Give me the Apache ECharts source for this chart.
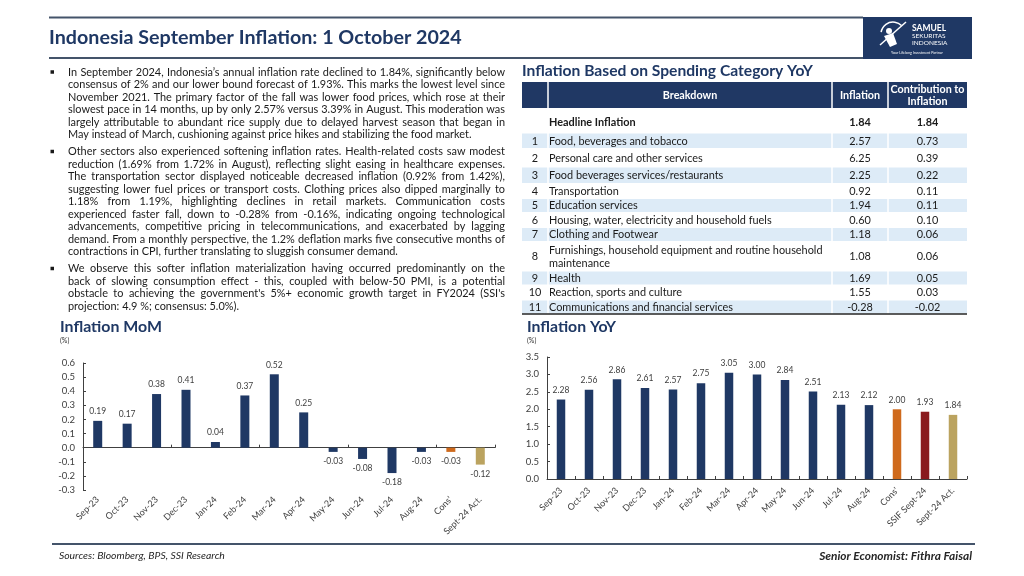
<!DOCTYPE html>
<html><head><meta charset="utf-8">
<script src="https://cdn.jsdelivr.net/npm/echarts@6/dist/echarts.min.js"></script>
<style>html,body{margin:0;padding:0;background:#fff}#c{width:1024px;height:576px}</style>
</head><body><div id="c"></div>
<script>
// ---------- DATA ----------
const pageTitle = 'Indonesia September Inflation: 1 October 2024';
const momTitle = 'Inflation MoM';
const yoyTitle = 'Inflation YoY';
const tableTitle = 'Inflation Based on Spending Category YoY';
const unitLabel = '(%)';

const momCategories = ['Sep-23','Oct-23','Nov-23','Dec-23','Jan-24','Feb-24','Mar-24','Apr-24','May-24','Jun-24','Jul-24','Aug-24',"Cons'",'Sept-24 Act.'];
const momValues = [0.19,0.17,0.38,0.41,0.04,0.37,0.52,0.25,-0.03,-0.08,-0.18,-0.03,-0.03,-0.12];

const yoyCategories = ['Sep-23','Oct-23','Nov-23','Dec-23','Jan-24','Feb-24','Mar-24','Apr-24','May-24','Jun-24','Jul-24','Aug-24',"Cons'",'SSIF Sept-24','Sept-24 Act.'];
const yoyValues = [2.28,2.56,2.86,2.61,2.57,2.75,3.05,3.00,2.84,2.51,2.13,2.12,2.00,1.93,1.84];

const momAxis = {min:-0.3, max:0.6, interval:0.1};
const yoyAxis = {min:0, max:3.5, interval:0.5};

const tableHeaders = ['Breakdown','Inflation','Contribution to\nInflation'];
const headlineRow = ['Headline Inflation','1.84','1.84'];
const tableNumbers = ['1','2','3','4','5','6','7','8','9','10','11'];
const tableItems = ['Food, beverages and tobacco','Personal care and other services','Food beverages services/restaurants','Transportation','Education services','Housing, water, electricity and household fuels','Clothing and Footwear','Furnishings, household equipment and routine household maintenance','Health','Reaction, sports and culture','Communications and financial services'];
const tableInflation = ['2.57','6.25','2.25','0.92','1.94','0.60','1.18','1.08','1.69','1.55','-0.28'];
const tableContribution = ['0.73','0.39','0.22','0.11','0.11','0.10','0.06','0.06','0.05','0.03','-0.02'];

const paragraphs = [
 ["In September 2024, Indonesia\u2019s annual inflation rate declined to 1.84%, significantly below",
  "consensus of 2% and our lower bound forecast of 1.93%. This marks the lowest level since",
  "November 2021. The primary factor of the fall was lower food prices, which rose at their",
  "slowest pace in 14 months, up by only 2.57% versus 3.39% in August. This moderation was",
  "largely attributable to abundant rice supply due to delayed harvest season that began in",
  "May instead of March, cushioning against price hikes and stabilizing the food market."],
 ["Other sectors also experienced softening inflation rates. Health-related costs saw modest",
  "reduction (1.69% from 1.72% in August), reflecting slight easing in healthcare expenses.",
  "The transportation sector displayed noticeable decreased inflation (0.92% from 1.42%),",
  "suggesting lower fuel prices or transport costs. Clothing prices also dipped marginally to",
  "1.18% from 1.19%, highlighting declines in retail markets. Communication costs",
  "experienced faster fall, down to -0.28% from -0.16%, indicating ongoing technological",
  "advancements, competitive pricing in telecommunications, and exacerbated by lagging",
  "demand. From a monthly perspective, the 1.2% deflation marks five consecutive months of",
  "contractions in CPI, further translating to sluggish consumer demand."],
 ["We observe this softer inflation materialization having occurred predominantly on the",
  "back of slowing consumption effect - this, coupled with below-50 PMI, is a potential",
  "obstacle to achieving the government's 5%+ economic growth target in FY2024 (SSI's",
  "projection: 4.9 %; consensus: 5.0%)."]
];
const footerLeft = 'Sources: Bloomberg, BPS, SSI Research';
const footerRight = 'Senior Economist: Fithra Faisal';
const logoLines = ['SAMUEL','SEKURITAS','INDONESIA','Your Lifelong Investment Partner'];

// ---------- STYLE / LAYOUT ----------
const FONT = 'Lato';
const NAVY = '#1f3864';
const TEXT = '#1a1a1a';
const AXIS = '#404040';
const specialColors = {"Cons'":'#cf6a1c','SSIF Sept-24':'#8a1a1e','Sept-24 Act.':'#bba35f'};
const colorFor = c => specialColors[c] || NAVY;

const cv = document.createElement('canvas').getContext('2d');
function textW(t, size, weight, style){ cv.font = (style||'normal')+' '+(weight||'normal')+' '+size+'px '+FONT; return cv.measureText(t).width; }
function fit(t, w, weight, style){ return 20*w/textW(t,20,weight,style); }

function T(text, x, y, o){
  o = o || {};
  const st = {text:text, fill:o.color||TEXT, fontSize:o.size||10, fontFamily:FONT,
    fontWeight:o.weight||'normal', fontStyle:o.style||'normal',
    align:o.align||'left', verticalAlign:o.valign||'middle'};
  if (o.width) { st.width = o.width; st.overflow = 'break'; }
  if (o.lineHeight) st.lineHeight = o.lineHeight;
  return {type:'text', x:x, y:y, silent:true, style:st};
}
function R(x,y,w,h,fill){ return {type:'rect', silent:true, shape:{x:x,y:y,width:w,height:h}, style:{fill:fill}}; }
function L(x1,y1,x2,y2,stroke,lw){ return {type:'line', silent:true, shape:{x1:x1,y1:y1,x2:x2,y2:y2}, style:{stroke:stroke,lineWidth:lw}}; }

const els = [];
// header
els.push(L(49,17.5,863,17.5,'#44546a',2));
els.push(L(49,58,972,58,'#44546a',2));
els.push(T(pageTitle, 49, 38, {size:fit(pageTitle,413,'bold'), weight:'bold', color:NAVY}));
// logo
els.push(R(863,17,109,42,'#1f3864'));
els.push({type:'arc', silent:true, shape:{cx:893,cy:34,r:12,startAngle:-Math.PI*0.95,endAngle:-Math.PI*0.25}, style:{stroke:'#fff',fill:null,lineWidth:1.5}});
els.push(L(880,45,906,22,'#fff',1.5));
els.push({type:'circle', silent:true, shape:{cx:889,cy:31,r:3}, style:{fill:'#fff'}});
els.push({type:'polygon', silent:true, shape:{points:[[884,36],[893,33],[897,44],[890,47]]}, style:{fill:'#fff'}});
els.push(T(logoLines[0], 912, 28.5, {size:8.5, weight:'bold', color:'#fff'}));
els.push(T(logoLines[1], 912, 36, {size:6.5, color:'#fff'}));
els.push(T(logoLines[2], 912, 43, {size:6.5, color:'#fff'}));
els.push(T(logoLines[3], 917, 53, {size:3.6, color:'#fff', align:'center'}));
// footer
els.push(L(52,544,975,544,'#44546a',2));
els.push(T(footerLeft, 59, 556, {size:fit(footerLeft,166,'normal','italic'), style:'italic', color:'#262626'}));
els.push(T(footerRight, 972, 556, {size:fit(footerRight,153,'bold','italic'), style:'italic', weight:'bold', color:'#262626', align:'right'}));

// paragraphs (justified)
const BODY_X = 68, BODY_W = 437;
let maxNat = 0;
paragraphs.forEach(p => p.forEach(l => { maxNat = Math.max(maxNat, textW(l,10)); }));
const bodySize = 10*BODY_W/maxNat*0.995;
let py = 72;
paragraphs.forEach((p, pi) => {
  if (pi > 0) py += 4.5;
  els.push(R(50.5, py-1.75, 3.5, 3.5, TEXT));
  p.forEach((line, li) => {
    const words = line.split(' ');
    const ws = words.map(w => textW(w, bodySize));
    const sum = ws.reduce((a,b)=>a+b,0);
    const last = li === p.length-1;
    const gap = last || words.length < 2 ? textW(' ', bodySize) : (BODY_W - sum)/(words.length-1);
    let x = BODY_X;
    words.forEach((w,k) => { els.push(T(w, x, py, {size:bodySize})); x += ws[k] + gap; });
    py += 12.5;
  });
});

// table
const TX0 = 522, TX1 = 967, C1 = 548, C2 = 832, C3 = 888;
const BAND = '#ddebf7';
els.push(T(tableTitle, 522, 70.5, {size:fit(tableTitle,291,'bold'), weight:'bold', color:NAVY}));
els.push(R(TX0, 82, TX1-TX0, 26, '#203864'));
[C1,C2,C3].forEach(cx => els.push(L(cx,82,cx,108,'#ffffff',1.5)));
const hSize = Math.min(fit(tableHeaders[0],55,'bold'), fit('Contribution to',74,'bold'));
els.push(T(tableHeaders[0], (C1+C2)/2, 95.5, {size:hSize, weight:'bold', color:'#fff', align:'center'}));
els.push(T(tableHeaders[1], (C2+C3)/2, 95.5, {size:hSize, weight:'bold', color:'#fff', align:'center'}));
els.push(T(tableHeaders[2], (C3+TX1)/2, 95.5, {size:hSize, weight:'bold', color:'#fff', align:'center', lineHeight:11.5}));
const bSize = fit(tableItems[0],139);
els.push(T(headlineRow[0], 549, 122, {size:bSize, weight:'bold'}));
els.push(T(headlineRow[1], (C2+C3)/2, 122, {size:bSize, weight:'bold', align:'center'}));
els.push(T(headlineRow[2], (C3+TX1)/2, 122, {size:bSize, weight:'bold', align:'center'}));
const rowH = [16,18,17,14.5,14.5,14.5,14.5,29,14.5,14.5,14.5];
let ry = 133;
tableItems.forEach((item, i) => {
  const h = rowH[i], cy = ry + h/2;
  if (i % 2 === 0) {
    [[TX0,C1],[C1,C2],[C2,C3],[C3,TX1]].forEach((c,k) => {
      const x0 = k===0 ? c[0] : c[0]+0.75, x1 = k===3 ? c[1] : c[1]-0.75;
      els.push(R(x0, ry+0.5, x1-x0, h-1.5, BAND));
    });
  }
  els.push(T(tableNumbers[i], 535, cy, {size:bSize, align:'center'}));
  els.push(T(item, 549, cy, {size:bSize, width:281, lineHeight:13}));
  els.push(T(tableInflation[i], (C2+C3)/2, cy, {size:bSize, align:'center'}));
  els.push(T(tableContribution[i], (C3+TX1)/2, cy, {size:bSize, align:'center'}));
  ry += h;
});
els.push(L(TX0, 314, TX1, 314, '#262626', 1.5));

// chart titles
els.push(T(momTitle, 60, 327, {size:fit(momTitle,102,'bold'), weight:'bold', color:NAVY}));
els.push(T(unitLabel, 60, 341, {size:7, color:'#333'}));
els.push(T(yoyTitle, 527, 327, {size:fit(yoyTitle,89,'bold'), weight:'bold', color:NAVY}));
els.push(T(unitLabel, 527, 341, {size:7, color:'#333'}));

const fmt1 = v => Math.abs(v) < 1e-9 ? '0.0' : v.toFixed(1);
const catLabel = {rotate:45, fontSize:9, color:AXIS, interval:0, fontFamily:FONT};
const valLabel = {fontSize:9.5, color:AXIS, fontFamily:FONT, formatter:fmt1, margin:8};
const barLabel = {show:true, fontSize:8.5, color:AXIS, fontFamily:FONT, distance:5, formatter:p => p.value.toFixed(2)};
const mkData = (cats, vals) => vals.map((v,i) => ({value:v, itemStyle:{color:colorFor(cats[i])}, label:{position: v < 0 ? 'bottom' : 'top'}}));

const chart = echarts.init(document.getElementById('c'), null, {renderer:'canvas'});
chart.setOption({
  animation:false,
  backgroundColor:'#fff',
  textStyle:{fontFamily:FONT},
  grid:[
    {left:83, top:363, width:412, height:127, outerBoundsMode:'none', containLabel:false},
    {left:547, top:357, width:420, height:122, outerBoundsMode:'none', containLabel:false}
  ],
  xAxis:[
    {gridIndex:0, type:'category', data:momCategories, position:'bottom', axisLine:{show:false, onZero:false}, axisTick:{show:false}, axisLabel:Object.assign({margin:8}, catLabel)},
    {gridIndex:0, type:'category', data:momCategories, position:'top', axisLine:{show:true, onZero:true, lineStyle:{color:AXIS, width:1}}, axisTick:{show:true, inside:false, length:3, lineStyle:{color:AXIS}}, axisLabel:{show:false}},
    {gridIndex:1, type:'category', data:yoyCategories, position:'bottom', axisLine:{show:true, lineStyle:{color:AXIS, width:1}}, axisTick:{show:true, inside:true, length:3, lineStyle:{color:AXIS}}, axisLabel:Object.assign({margin:10}, catLabel)}
  ],
  yAxis:[
    Object.assign({gridIndex:0, type:'value'}, momAxis, {axisLine:{show:true, lineStyle:{color:AXIS}}, axisTick:{show:true, inside:true, length:3, lineStyle:{color:AXIS}}, splitLine:{show:false}, axisLabel:valLabel}),
    Object.assign({gridIndex:1, type:'value'}, yoyAxis, {axisLine:{show:true, lineStyle:{color:AXIS}}, axisTick:{show:true, inside:true, length:3, lineStyle:{color:AXIS}}, splitLine:{show:false}, axisLabel:valLabel})
  ],
  series:[
    {type:'bar', xAxisIndex:0, yAxisIndex:0, barWidth:9, data:mkData(momCategories, momValues), label:barLabel},
    {type:'bar', xAxisIndex:2, yAxisIndex:1, barWidth:8.5, data:mkData(yoyCategories, yoyValues), label:barLabel}
  ],
  graphic:{elements:els}
});
</script></body></html>
